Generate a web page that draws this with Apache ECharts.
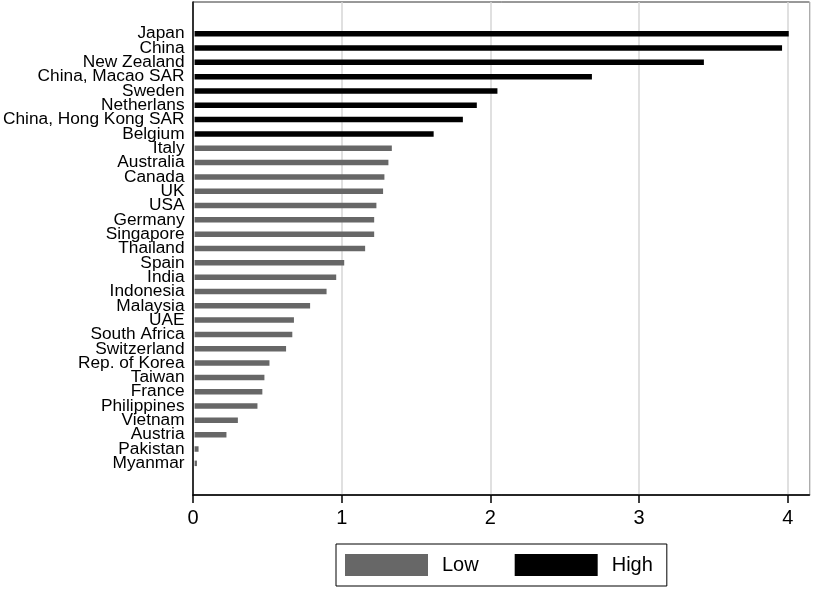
<!DOCTYPE html>
<html>
<head>
<meta charset="utf-8">
<script src="https://cdn.jsdelivr.net/npm/echarts@6/dist/echarts.min.js"></script>
<style>
    html, body { margin: 0; padding: 0; background: #fff; }
    #chart { width: 813px; height: 589px; }
</style>
</head>
<body>
<div id="chart"></div>
<script>
// countries, top to bottom
const categories = [
    "Japan", "China", "New Zealand", "China, Macao SAR", "Sweden", "Netherlans",
    "China, Hong Kong SAR", "Belgium", "Italy", "Australia", "Canada", "UK", "USA",
    "Germany", "Singapore", "Thailand", "Spain", "India", "Indonesia", "Malaysia",
    "UAE", "South Africa", "Switzerland", "Rep. of Korea", "Taiwan", "France",
    "Philippines", "Vietnam", "Austria", "Pakistan", "Myanmar",
]
// first 8 countries are "High"
const highValues = [4.006, 3.961, 3.434, 2.679, 2.042, 1.903, 1.809, 1.612]
// the rest are "Low"
const lowValues = [
    1.330, 1.307, 1.280, 1.271, 1.226, 1.211, 1.211, 1.150, 1.009, 0.955, 0.890,
    0.779, 0.670, 0.659, 0.617, 0.505, 0.471, 0.457, 0.424, 0.292, 0.215, 0.027, 0.016,
]
const xTicks = [0, 1, 2, 3, 4]
const xMax = 4.146

const font = "'Liberation Sans', Arial, Helvetica, sans-serif"
const grayColor = "#676767"

const highData = categories.map((c, i) => (i < highValues.length ? highValues[i] : "-"))
const lowData = categories.map((c, i) => (i >= highValues.length ? lowValues[i - highValues.length] : "-"))

const chart = echarts.init(document.getElementById("chart"), null, { renderer: "canvas" })

let option = {
    animation: false,
    textStyle: { fontFamily: font },
    legend: {
        data: ["Low", "High"],
        left: 336,
        top: 544,
        orient: "horizontal",
        icon: "rect",
        itemWidth: 83,
        itemHeight: 22,
        itemGap: 36,
        borderColor: "#000",
        borderWidth: 1,
        padding: [10, 14, 10, 9],
        selectedMode: false,
        textStyle: {
            fontFamily: font,
            fontSize: 20,
            color: "#000",
            padding: [0, 0, 0, 9],
        },
    },
    grid: [
        // outer frame with x axis
        {
            left: 193,
            right: 3.5,
            top: 2,
            bottom: 94,
            show: true,
            borderColor: "#333",
            borderWidth: 1,
        },
        // inner area for category bands
        {
            left: 193,
            right: 3.5,
            top: 26.5,
            bottom: 118.5,
        },
    ],
    xAxis: [
        {
            gridIndex: 0,
            type: "value",
            min: 0,
            max: xMax,
            interval: 1,
            axisLine: { show: true, lineStyle: { color: "#000", width: 1.5 } },
            axisTick: { show: true, length: 8, lineStyle: { color: "#000", width: 1.5 } },
            axisLabel: {
                fontFamily: font,
                fontSize: 20,
                color: "#000",
                margin: 13,
                showMaxLabel: false,
                formatter: (v) => (xTicks.includes(v) ? String(v) : ""),
            },
            splitLine: { show: true, lineStyle: { color: "#d6d6d6", width: 1.5 } },
        },
        {
            gridIndex: 1,
            type: "value",
            min: 0,
            max: xMax,
            show: false,
        },
    ],
    yAxis: [
        {
            gridIndex: 0,
            type: "value",
            axisLine: { show: true, onZero: false, lineStyle: { color: "#000", width: 1.5 } },
            axisTick: { show: false },
            axisLabel: { show: false },
            splitLine: { show: false },
        },
        {
            gridIndex: 1,
            type: "category",
            inverse: true,
            data: categories,
            axisLine: { show: false },
            axisTick: { show: false },
            axisLabel: {
                fontFamily: font,
                fontSize: 17.3,
                color: "#000",
                margin: 10,
                interval: 0,
                padding: [0, 0, 3, 0],
            },
        },
    ],
    series: [
        {
            name: "Low",
            type: "bar",
            xAxisIndex: 1,
            yAxisIndex: 1,
            stack: "all",
            barWidth: 5.5,
            data: lowData,
            itemStyle: { color: grayColor },
        },
        {
            name: "High",
            type: "bar",
            xAxisIndex: 1,
            yAxisIndex: 1,
            stack: "all",
            barWidth: 5.5,
            data: highData,
            itemStyle: { color: "#000" },
        },
    ],
}

chart.setOption(option)
</script>
</body>
</html>
